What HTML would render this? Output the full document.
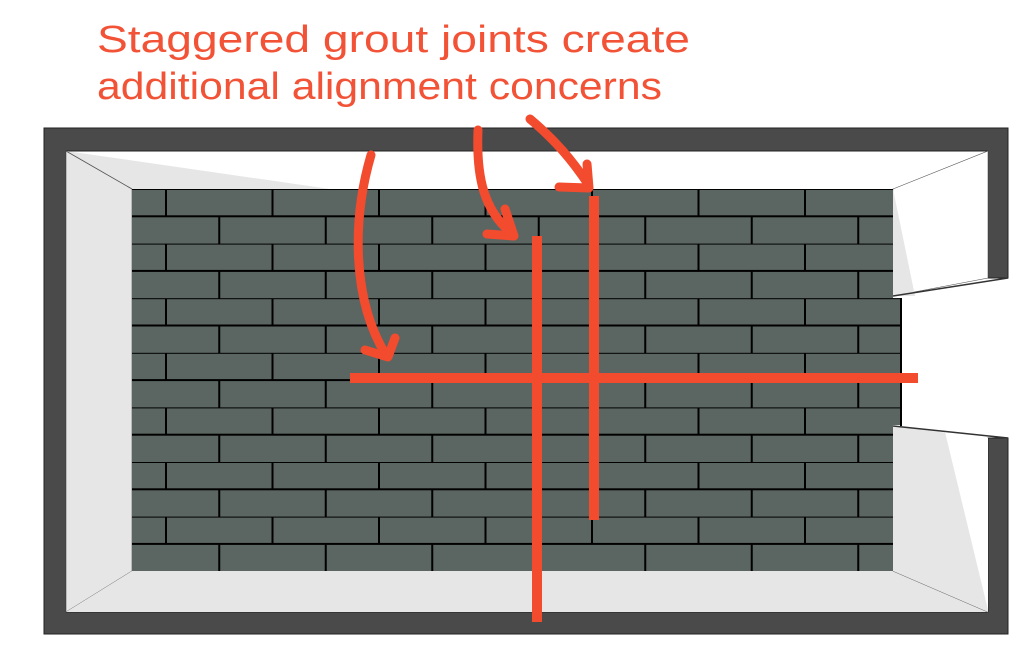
<!DOCTYPE html>
<html><head><meta charset="utf-8"><style>body{margin:0;background:#fff}svg{display:block}</style></head>
<body>
<svg width="1024" height="654" viewBox="0 0 1024 654" xmlns="http://www.w3.org/2000/svg">
<defs>
<pattern id="t" x="166" y="189" width="106.5" height="54.6" patternUnits="userSpaceOnUse">
<rect width="106.5" height="54.6" fill="#5b6662"/>
<rect width="106.5" height="2" y="-1" fill="#000"/>
<rect width="106.5" height="2" y="26.3" fill="#000"/>
<rect width="2" height="27.3" x="-1" fill="#000"/>
<rect width="2" height="27.3" x="105.5" fill="#000"/>
<rect width="2" height="27.3" x="52.25" y="27.3" fill="#000"/>
</pattern>
</defs>
<text x="97" y="52" font-family="Liberation Sans, sans-serif" font-size="38" fill="#f25236" textLength="593" lengthAdjust="spacingAndGlyphs">Staggered grout joints create</text>
<text x="97" y="99" font-family="Liberation Sans, sans-serif" font-size="38" fill="#f25236" textLength="565" lengthAdjust="spacingAndGlyphs">additional alignment concerns</text>
<!-- outer frame -->
<path d="M44,128 H1008 V278 H988 V151 H66 V612 H988 V438 H1008 V634 H44 Z" fill="#4a4a4a" stroke="#222" stroke-width="1"/>
<!-- walls -->
<polygon points="66,151 132,189 132,571 66,612" fill="#e6e6e6" stroke="#555" stroke-width="0.6"/>
<polygon points="66,151 132,189 330,189" fill="#e6e6e6"/>
<line x1="66" y1="151" x2="132" y2="189" stroke="#555" stroke-width="0.8"/>
<polygon points="66,612 132,571 893,571 988,612" fill="#e6e6e6"/>
<line x1="893" y1="571" x2="988" y2="612" stroke="#555" stroke-width="0.8"/>
<polygon points="893,189 988,151 988,278 893,296" fill="#fff" stroke="#555" stroke-width="0.6"/>
<polygon points="893,189 915,296 893,296" fill="#e6e6e6"/>
<polygon points="893,426 988,438 988,612 893,571" fill="#e6e6e6"/>
<polygon points="945,432 988,438 988,610" fill="#fff"/>
<line x1="893" y1="426" x2="1008" y2="438" stroke="#333" stroke-width="1.5"/>
<line x1="893" y1="296" x2="1008" y2="278" stroke="#333" stroke-width="1.5"/>
<!-- tiles -->
<rect x="132" y="189" width="761" height="382" fill="url(#t)"/>
<rect x="893" y="298" width="8" height="127" fill="url(#t)"/>
<line x1="901" y1="298" x2="901" y2="426" stroke="#000" stroke-width="2"/>
<!-- red lines -->
<g stroke="#f24b2e" stroke-linecap="butt" fill="none">
<line x1="350" y1="378" x2="918" y2="378" stroke-width="10"/>
<line x1="537" y1="236" x2="537" y2="622" stroke-width="10"/>
<line x1="594" y1="196" x2="594" y2="520" stroke-width="10"/>
<g stroke-width="9" stroke-linecap="round" stroke-linejoin="round">
<path d="M371,155 C352,220 352,300 386,355"/>
<path d="M365,350 L388,357 L395,338"/>
<path d="M478,130 C476,180 485,210 510,232"/>
<path d="M487,234 L514,236 L505,209"/>
<path d="M530,119 C555,140 572,160 588,184"/>
<path d="M559,187 L589,188 L587,164"/>
</g>
</g>
</svg>
</body></html>
